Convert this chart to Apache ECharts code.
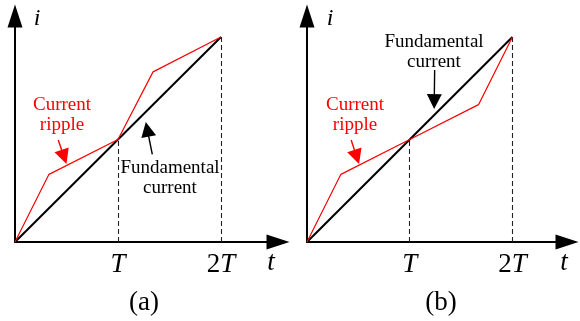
<!DOCTYPE html>
<html>
<head>
<meta charset="utf-8">
<script src="https://cdn.jsdelivr.net/npm/echarts@6.0.0/dist/echarts.min.js"></script>
<style>
  html, body { margin: 0; padding: 0; background: #fff; }
  #chart { width: 580px; height: 321px; }
</style>
</head>
<body>
<div id="chart"></div>
<script>
// Time in units of T, current in units of the current reached at T.
const fundamental = [[0, 0], [2, 2]];
const rippleA = [[0, 0], [0.33, 0.66], [1, 1], [1.34, 1.66], [2, 2]];
const rippleB = [[0, 0], [0.33, 0.66], [1, 1], [1.67, 1.34], [2, 2]];
const guideT = [[1, 0], [1, 1]];
const guide2T = [[2, 0], [2, 2]];
const tickLabels = { 1: '{it|T}', 2: '{n|2}{it|T}' };

// Annotation pointers: [tail, head]
const rippleArrowA = [[0.42, 0.995], [0.476, 0.83]];
const fundArrowA = [[1.333, 0.854], [1.284, 1.10]];
const rippleArrowB = [[0.43, 0.995], [0.484, 0.83]];
const fundArrowB = [[1.243, 1.678], [1.239, 1.37]];

const SERIF = '"Liberation Serif", "Times New Roman", serif';

function xAxisFor(gridIndex, max) {
  return {
    type: 'value', gridIndex: gridIndex, min: 0, max: max, interval: 1,
    axisLine: { lineStyle: { color: '#000', width: 2 }, symbol: ['none', 'triangle'], symbolSize: [15, 23] },
    axisTick: { show: false },
    splitLine: { show: false },
    axisLabel: {
      margin: 9, color: '#000', fontFamily: SERIF, fontSize: 27,
      showMaxLabel: false, showMinLabel: false,
      formatter: v => tickLabels[v] || '',
      rich: {
        it: { fontFamily: SERIF, fontSize: 27, fontStyle: 'italic', color: '#000' },
        n: { fontFamily: SERIF, fontSize: 27, color: '#000' }
      }
    }
  };
}
function yAxisFor(gridIndex, max) {
  return {
    type: 'value', gridIndex: gridIndex, min: 0, max: max,
    axisLine: { lineStyle: { color: '#000', width: 2 }, symbol: ['none', 'triangle'], symbolSize: [15, 23] },
    axisTick: { show: false }, splitLine: { show: false }, axisLabel: { show: false }
  };
}
function panelSeries(idx, ripple, rippleArrow, fundArrow) {
  return [
    {
      type: 'lines', coordinateSystem: 'cartesian2d', xAxisIndex: idx, yAxisIndex: idx,
      polyline: false, silent: true, symbol: 'none', z: 1,
      lineStyle: { color: '#222', width: 1.1, type: [5, 3], opacity: 1 },
      data: [{ coords: guideT }, { coords: guide2T }]
    },
    {
      type: 'line', xAxisIndex: idx, yAxisIndex: idx, data: fundamental,
      symbol: 'none', silent: true, z: 3,
      lineStyle: { color: '#000', width: 2 }
    },
    {
      type: 'line', xAxisIndex: idx, yAxisIndex: idx, data: ripple,
      symbol: 'none', silent: true, z: 4,
      lineStyle: { color: '#ff0000', width: 1.2 }
    },
    {
      type: 'lines', coordinateSystem: 'cartesian2d', xAxisIndex: idx, yAxisIndex: idx,
      silent: true, symbol: ['none', 'triangle'], symbolSize: 15, z: 5,
      data: [
        { coords: rippleArrow, lineStyle: { color: '#ff0000' } },
        { coords: fundArrow, lineStyle: { color: '#000' } }
      ],
      lineStyle: { width: 1.4, opacity: 1 }
    }
  ];
}
function txt(x, y, text, opts) {
  return {
    type: 'text', x: x, y: y, silent: true,
    style: Object.assign({
      text: text, fill: '#000', align: 'center', verticalAlign: 'top',
      fontFamily: SERIF, fontSize: 19, lineHeight: 20
    }, opts || {})
  };
}

const chart = echarts.init(document.getElementById('chart'), null, { renderer: 'canvas' });
chart.setOption({
  animation: false,
  backgroundColor: '#fff',
  grid: [
    { left: 15, top: 16, width: 263, height: 226, outerBoundsMode: 'none' },
    { left: 307, top: 16, width: 260, height: 226, outerBoundsMode: 'none' }
  ],
  xAxis: [xAxisFor(0, 263 / 103), xAxisFor(1, 260 / 102.7)],
  yAxis: [yAxisFor(0, 226 / 102.5), yAxisFor(1, 226 / 102.5)],
  series: [].concat(
    panelSeries(0, rippleA, rippleArrowA, fundArrowA),
    panelSeries(1, rippleB, rippleArrowB, fundArrowB)
  ),
  graphic: [
    txt(62, 95, 'Current\nripple', { fill: '#ff0000' }),
    txt(170, 158, 'Fundamental\ncurrent'),
    txt(355, 95, 'Current\nripple', { fill: '#ff0000' }),
    txt(434, 32, 'Fundamental\ncurrent'),
    txt(37, 7, 'i', { fontSize: 24, fontStyle: 'italic', lineHeight: 24 }),
    txt(330, 7, 'i', { fontSize: 24, fontStyle: 'italic', lineHeight: 24 }),
    txt(271, 249, 't', { fontSize: 27, fontStyle: 'italic', lineHeight: 27 }),
    txt(564, 249, 't', { fontSize: 27, fontStyle: 'italic', lineHeight: 27 }),
    txt(144, 289, '(a)', { fontSize: 27, lineHeight: 28 }),
    txt(441, 289, '(b)', { fontSize: 27, lineHeight: 28 })
  ]
});
</script>
</body>
</html>
